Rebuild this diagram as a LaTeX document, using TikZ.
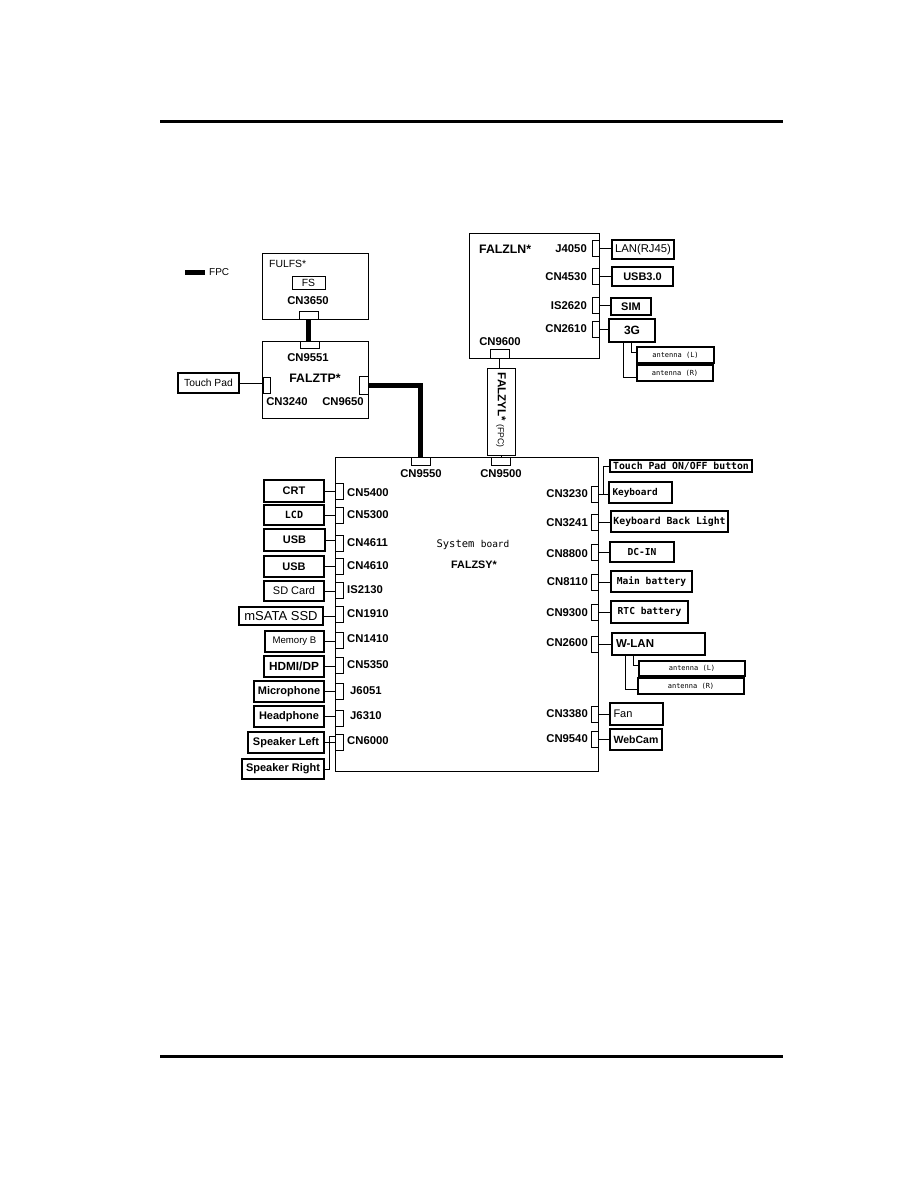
\documentclass[tikz,border=0pt]{standalone}
\usepackage{fontspec}
\setmainfont{Liberation Sans}
\newfontfamily\gothic{DejaVu Sans Mono}
\tikzset{
  board/.style={draw, line width=0.9pt, inner sep=0pt},
  part/.style={draw, line width=1.1pt, inner sep=0pt, font=\fontsize{11}{12}\selectfont\bfseries},
  kpart/.style={part, font=\gothic\fontsize{9.6}{11}\selectfont\bfseries},
  plug/.style={draw, line width=0.9pt, inner sep=0pt, minimum width=7, minimum height=16},
  hplug/.style={plug, minimum width=19, minimum height=8},
  pin/.style={inner sep=0pt, font=\fontsize{11.3}{12}\selectfont\bfseries},
  fpc/.style={line width=5pt},
  wire/.style={line width=0.9pt}
}
\begin{document}
\begin{tikzpicture}[x=1pt,y=-1pt]
\useasboundingbox (0,0) rectangle (918,1188);
\draw[line width=3pt] (160,122) -- (783,122);
\draw[line width=3pt] (160,1056) -- (783,1056);

\coordinate (fpcA) at (185,272);
\node[pin, font=\fontsize{10}{12}\selectfont, anchor=west] (fpcl) at (209,272) {FPC};
\draw[fpc] (fpcA) -- ([xshift=-4]fpcl.west);

\node[board, minimum width=106, minimum height=66] (fulfs) at (315,286) {};
\node[pin, font=\fontsize{10.4}{12}\selectfont, anchor=west] (fulfsl) at (269,264) {FULFS*};
\node[part, line width=0.9pt, font=\fontsize{10.4}{12}\selectfont, minimum width=33, minimum height=13] (fs) at (308.5,282.5) {FS};
\node[pin] (cn3650l) at (308,301) {CN3650};
\node[hplug] (c3650) at (308.5,315) {};

\node[board, minimum width=106, minimum height=77] (falztp) at (315,379.5) {};
\node[hplug, minimum height=7] (c9551) at (310,344.5) {};
\draw[fpc] (c3650.south) -- (c3650.south |- c9551.north);
\node[pin] (cn9551l) at (308,358) {CN9551};
\node[pin, font=\fontsize{12.3}{13}\selectfont\bfseries] (falztpl) at (315,378) {FALZTP*};
\node[plug] (c3240) at (266.5,385) {};
\node[part, font=\fontsize{10.3}{12}\selectfont, minimum width=61, minimum height=20] (touchpad) at (208.5,383) {Touch Pad};
\draw[wire] (touchpad.east) -- (touchpad.east -| c3240.west);
\node[pin] (cn3240l) at (287,402) {CN3240};
\node[pin] (cn9650l) at (343,402) {CN9650};
\node[plug, minimum width=9, minimum height=18] (c9650) at (363.5,385) {};

\node[board, minimum width=263, minimum height=314] (sysbd) at (466.5,614) {};
\node[hplug] (c9550) at (420.5,461) {};
\node[hplug] (c9500) at (500.5,461) {};
\draw[fpc] (c9650.east) -| (c9550.north);
\node[pin] (cn9550l) at (421,474) {CN9550};
\node[pin] (cn9500l) at (501,474) {CN9500};
\node[font=\gothic\fontsize{10.5}{12}\selectfont, inner sep=0pt] (sysl) at (473,545) {System {\fontsize{9.5}{12}\selectfont board}};
\node[pin, font=\fontsize{10.8}{12}\selectfont\bfseries] (falzsyl) at (474,565) {FALZSY*};

\node[board, minimum width=130, minimum height=125] (falzln) at (534,295.5) {};
\node[pin, font=\fontsize{12.3}{13}\selectfont\bfseries, anchor=west] (falzlnl) at (479,249) {FALZLN*};
\node[plug] (j4050) at (595.5,248.5) {};
\node[plug] (c4530) at (595.5,276) {};
\node[plug] (is2620) at (595.5,305) {};
\node[plug] (c2610) at (595.5,329) {};
\node[pin, anchor=east] (j4050l) at (587,249) {J4050};
\node[pin, anchor=east] (cn4530l) at (587,277) {CN4530};
\node[pin, anchor=east] (is2620l) at (587,306) {IS2620};
\node[pin, anchor=east] (cn2610l) at (587,329) {CN2610};
\node[part, font=\fontsize{11.3}{12}\selectfont, minimum width=62, minimum height=19] (lan) at (643,249.5) {LAN(RJ45)};
\node[part, minimum width=61, minimum height=19] (usb30) at (642.5,276.5) {USB3.0};
\node[part, minimum width=40, minimum height=17] (sim) at (631,306.5) {SIM};
\node[part, font=\fontsize{12}{13}\selectfont\bfseries, minimum width=46, minimum height=23] (g3) at (632,330.5) {3G};
\node[kpart, font=\gothic\fontsize{7}{8}\selectfont, minimum width=77, minimum height=16] (antl) at (675.5,355) {antenna (L)};
\node[kpart, font=\gothic\fontsize{7}{8}\selectfont, minimum width=76, minimum height=16] (antr) at (675,373) {antenna (R)};
\draw[wire] (j4050.east) -- (j4050.east -| lan.west);
\draw[wire] (c4530.east) -- (c4530.east -| usb30.west);
\draw[wire] (is2620.east) -- (is2620.east -| sim.west);
\draw[wire] (c2610.east) -- (c2610.east -| g3.west);
\draw[wire] ([xshift=-1]g3.south) |- ([yshift=3]antl.west);
\draw[wire] ([xshift=-9]g3.south) |- ([yshift=-4]antr.west);
\node[hplug, minimum height=9] (c9600) at (499.5,353.5) {};
\node[pin] (cn9600l) at (500,342) {CN9600};
\node[board, minimum width=28, minimum height=87] (falzyl) at (501,411.5) {};
\node[pin, rotate=-90, font=\fontsize{11.6}{12}\selectfont\bfseries] (falzyll) at (501,410) {FALZYL* {\mdseries\fontsize{8.6}{9}\selectfont (FPC)}};
\draw[wire] (c9600.south) -- (c9600.south |- falzyl.north);
\draw[wire] (falzyl.south) -- (falzyl.south |- c9500.north);

\node[plug, minimum width=8] (c5400) at (339,491) {};
\node[plug, minimum width=8] (c5300) at (339,515.5) {};
\node[plug, minimum width=8] (c4611) at (339,543) {};
\node[plug, minimum width=8] (c4610) at (339,566.5) {};
\node[plug, minimum width=8] (is2130) at (339,590.5) {};
\node[plug, minimum width=8] (c1910) at (339,614.5) {};
\node[plug, minimum width=8] (c1410) at (339,640.5) {};
\node[plug, minimum width=8] (c5350) at (339,665.5) {};
\node[plug, minimum width=8] (j6051) at (339,691) {};
\node[plug, minimum width=8] (j6310) at (339,718) {};
\node[plug, minimum width=8] (c6000) at (339,742) {};
\node[pin, anchor=west] (cn5400l) at (347,493) {CN5400};
\node[pin, anchor=west] (cn5300l) at (347,515) {CN5300};
\node[pin, anchor=west] (cn4611l) at (347,543) {CN4611};
\node[pin, anchor=west] (cn4610l) at (347,566) {CN4610};
\node[pin, anchor=west] (is2130l) at (347,590) {IS2130};
\node[pin, anchor=west] (cn1910l) at (347,614) {CN1910};
\node[pin, anchor=west] (cn1410l) at (347,639) {CN1410};
\node[pin, anchor=west] (cn5350l) at (347,665) {CN5350};
\node[pin, anchor=west] (j6051l) at (350,691) {J6051};
\node[pin, anchor=west] (j6310l) at (350,716) {J6310};
\node[pin, anchor=west] (cn6000l) at (347,741) {CN6000};
\node[part, minimum width=60, minimum height=22] (crt) at (294,491) {CRT};
\node[kpart, font=\gothic\fontsize{10}{11}\selectfont\bfseries, minimum width=60, minimum height=20] (lcd) at (294,515) {LCD};
\node[part, minimum width=61, minimum height=22] (usba) at (294.5,540) {USB};
\node[part, minimum width=60, minimum height=21] (usbb) at (294,566.5) {USB};
\node[part, font=\fontsize{11}{12}\selectfont, minimum width=60, minimum height=20] (sdcard) at (294,591) {SD Card};
\node[part, font=\fontsize{13}{14}\selectfont, minimum width=84, minimum height=18] (msata) at (281,616) {mSATA SSD};
\node[part, font=\fontsize{9.6}{11}\selectfont, minimum width=59, minimum height=21] (memb) at (294.5,641.5) {Memory B};
\node[part, font=\fontsize{11.8}{12}\selectfont\bfseries, minimum width=60, minimum height=21] (hdmi) at (294,666.5) {HDMI/DP};
\node[part, minimum width=70, minimum height=21] (mic) at (289,691.5) {Microphone};
\node[part, minimum width=70, minimum height=21] (headph) at (289,716.5) {Headphone};
\node[part, minimum width=76, minimum height=21] (spkl) at (286,742.5) {Speaker Left};
\node[part, minimum width=82, minimum height=20] (spkr) at (283,769) {Speaker Right};
\draw[wire] (crt.east) -- (crt.east -| c5400.west);
\draw[wire] (lcd.east) -- (lcd.east -| c5300.west);
\draw[wire] (usba.east) -- (usba.east -| c4611.west);
\draw[wire] (usbb.east) -- (usbb.east -| c4610.west);
\draw[wire] (sdcard.east) -- (sdcard.east -| is2130.west);
\draw[wire] (msata.east) -- (msata.east -| c1910.west);
\draw[wire] (memb.east) -- (memb.east -| c1410.west);
\draw[wire] (hdmi.east) -- (hdmi.east -| c5350.west);
\draw[wire] (mic.east) -- (mic.east -| j6051.west);
\draw[wire] (headph.east) -- (headph.east -| j6310.west);
\draw[wire] (spkl.east) -- (spkl.east -| c6000.west);
\draw[wire] (spkr.east) -| ([xshift=-5,yshift=6]c6000.west) -- ([yshift=6]c6000.west);

\node[plug] (c3230) at (594.5,494) {};
\node[plug] (c3241) at (594.5,522) {};
\node[plug] (c8800) at (594.5,552) {};
\node[plug] (c8110) at (594.5,582) {};
\node[plug] (c9300) at (594.5,612) {};
\node[plug] (c2600) at (594.5,644) {};
\node[plug] (c3380) at (594.5,714.5) {};
\node[plug] (c9540) at (594.5,739.5) {};
\node[pin, anchor=east] (cn3230l) at (588,494) {CN3230};
\node[pin, anchor=east] (cn3241l) at (588,523) {CN3241};
\node[pin, anchor=east] (cn8800l) at (588,554) {CN8800};
\node[pin, anchor=east] (cn8110l) at (588,582) {CN8110};
\node[pin, anchor=east] (cn9300l) at (588,613) {CN9300};
\node[pin, anchor=east] (cn2600l) at (588,643) {CN2600};
\node[pin, anchor=east] (cn3380l) at (588,714) {CN3380};
\node[pin, anchor=east] (cn9540l) at (588,739) {CN9540};
\node[kpart, font=\gothic\fontsize{9.8}{11}\selectfont\bfseries, minimum width=142, minimum height=12] (tpbtn) at (681,466) {Touch Pad ON/OFF button};
\node[kpart, font=\gothic\fontsize{9.4}{11}\selectfont\bfseries, minimum width=63, minimum height=21, text width=56, align=left] (kbd) at (640.5,492.5) {Keyboard};
\node[kpart, font=\gothic\fontsize{9.8}{11}\selectfont\bfseries, minimum width=117, minimum height=21] (kbl) at (669.5,521.5) {Keyboard Back Light};
\node[kpart, minimum width=64, minimum height=20] (dcin) at (642,552) {DC-IN};
\node[kpart, minimum width=81, minimum height=21] (mainbat) at (651.5,581.5) {Main battery};
\node[kpart, minimum width=77, minimum height=22] (rtcbat) at (649.5,612) {RTC battery};
\node[part, font=\fontsize{11.5}{12}\selectfont\bfseries, minimum width=93, minimum height=22, text width=85, align=left] (wlan) at (658.5,644) {W-LAN};
\node[kpart, font=\gothic\fontsize{7}{8}\selectfont, minimum width=106, minimum height=15] (wantl) at (692,668.5) {antenna (L)};
\node[kpart, font=\gothic\fontsize{7}{8}\selectfont, minimum width=106, minimum height=16] (wantr) at (691,686) {antenna (R)};
\node[part, font=\fontsize{11}{12}\selectfont, minimum width=53, minimum height=22, text width=46, align=left] (fan) at (636.5,714) {Fan};
\node[part, font=\fontsize{10.5}{12}\selectfont\bfseries, minimum width=52, minimum height=21] (webcam) at (636,739.5) {WebCam};
\draw[wire] (c3230.east) -- (c3230.east -| kbd.west);
\draw[wire] (c3230.east) -- ++(5,0) |- (tpbtn.west);
\draw[wire] (c3241.east) -- (c3241.east -| kbl.west);
\draw[wire] (c8800.east) -- (c8800.east -| dcin.west);
\draw[wire] (c8110.east) -- (c8110.east -| mainbat.west);
\draw[wire] (c9300.east) -- (c9300.east -| rtcbat.west);
\draw[wire] (c2600.east) -- (c2600.east -| wlan.west);
\draw[wire] ([xshift=-25.5]wlan.south) |- ([yshift=3]wantl.west);
\draw[wire] ([xshift=-33.5]wlan.south) |- ([yshift=-3]wantr.west);
\draw[wire] (c3380.east) -- (c3380.east -| fan.west);
\draw[wire] (c9540.east) -- (c9540.east -| webcam.west);
\end{tikzpicture}
\end{document}
